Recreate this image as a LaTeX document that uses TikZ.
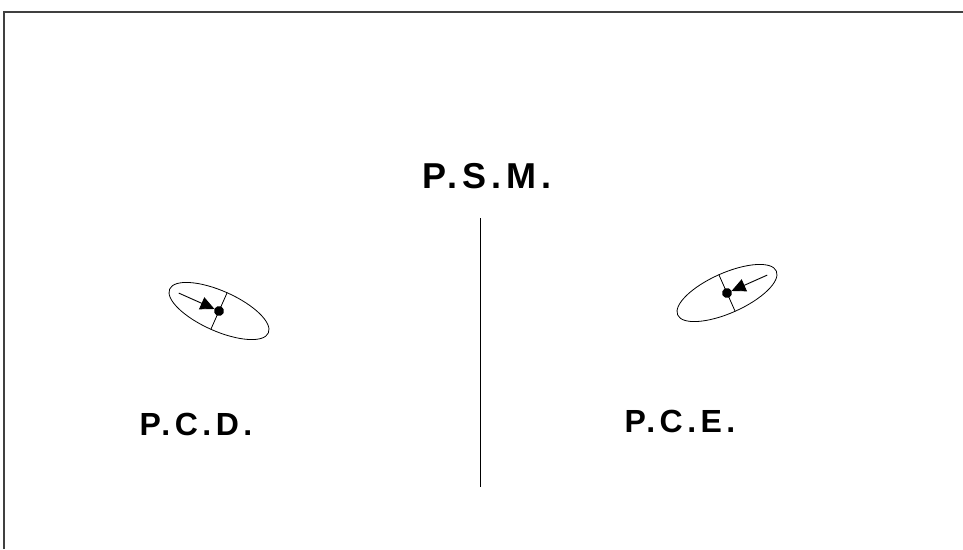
\documentclass[tikz,border=0pt]{standalone}
\usepackage{fontspec}
\setmainfont{Liberation Sans}
\newfontfamily\lblfont[LetterSpace=14]{Liberation Sans}
\usetikzlibrary{arrows.meta}
\tikzset{
    lbl/.style={font=\lblfont\bfseries\fontsize{32}{33}\selectfont, inner sep=0pt},
    ring/.style={line width=0.8pt},
    pointer/.style={line width=0.9pt, -{Triangle[length=14pt, width=13pt]}},
}
\begin{document}
\begin{tikzpicture}[x=1pt, y=-1pt]
    \useasboundingbox (0,0) rectangle (963,549);
    % Draw frame
    \coordinate (fbl) at (4, 549);
    \coordinate (ftl) at (4, 12);
    \coordinate (ftr) at (963, 12);
    \draw [line width=1.4pt, black!75] (fbl) -- (ftl) -- (ftr);
    % Draw midline
    \coordinate (mtop) at (480, 218);
    \coordinate (mbot) at (480, 487);
    \draw [line width=1pt] (mtop) -- (mbot);
    \node [lbl, font=\lblfont\bfseries\fontsize{36}{37}\selectfont] (psm) at (487, 176) {P.S.M.};
    \node [lbl] (pcd) at (196, 424) {P.C.D.};
    \node [lbl] (pce) at (680, 421) {P.C.E.};
    % Left ellipse
    \begin{scope}[shift={(219, 311)}, rotate=-24]
        \coordinate (lc) at (0, 0);
        \coordinate (lt) at (0, 20);
        \coordinate (lb) at (0, -20);
        \coordinate (ls) at (-44, 0);
        \coordinate (le) at (-5, 0);
        \draw [ring] (lc) ellipse [x radius=54, y radius=20];
        \draw [line width=0.8pt] (lt) -- (lb);
        \draw [pointer] (ls) -- (le);
        \fill (lc) circle[radius=5];
    \end{scope}
    % Right ellipse
    \begin{scope}[shift={(727, 293)}, rotate=24]
        \coordinate (rc) at (0, 0);
        \coordinate (rt) at (0, 20);
        \coordinate (rb) at (0, -20);
        \coordinate (rs) at (44, 0);
        \coordinate (re) at (5, 0);
        \draw [ring] (rc) ellipse [x radius=54, y radius=20];
        \draw [line width=0.8pt] (rt) -- (rb);
        \draw [pointer] (rs) -- (re);
        \fill (rc) circle[radius=5];
    \end{scope}
\end{tikzpicture}
\end{document}
